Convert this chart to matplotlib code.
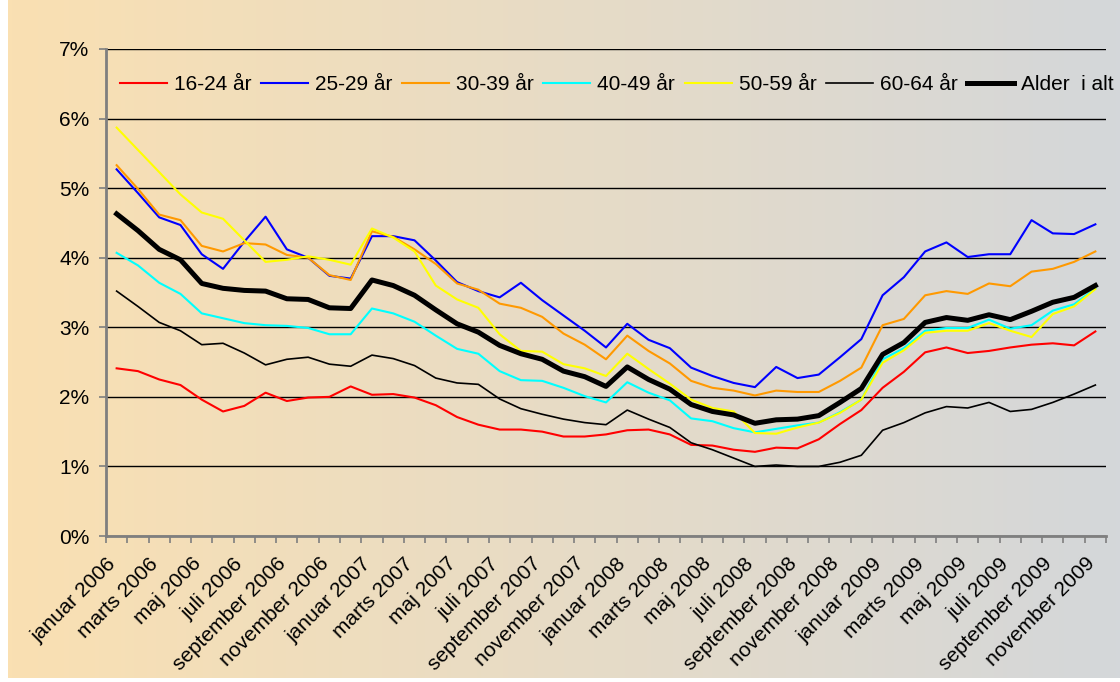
import numpy as np
import matplotlib.pyplot as plt

plt.rcParams['font.family'] = ['Liberation Sans', 'DejaVu Sans']

# month labels for the category axis (januar 2006 .. december 2009)
month_names = ['januar', 'februar', 'marts', 'april', 'maj', 'juni', 'juli',
               'august', 'september', 'oktober', 'november', 'december']
tick_labels = [f'{m} {y}' for y in range(2006, 2010) for m in month_names]

# unemployment rate in %, one value per month (jan 2006 - nov 2009)
age_16_24 = [2.41, 2.37, 2.25, 2.17, 1.96, 1.79, 1.87, 2.06, 1.94, 1.99, 2.00, 2.15,
             2.03, 2.04, 1.99, 1.88, 1.71, 1.60, 1.53, 1.53, 1.50, 1.43, 1.43, 1.46,
             1.52, 1.53, 1.46, 1.31, 1.30, 1.24, 1.21, 1.27, 1.26, 1.39, 1.61, 1.81,
             2.13, 2.36, 2.64, 2.71, 2.63, 2.66, 2.71, 2.75, 2.77, 2.74, 2.94]
age_25_29 = [5.27, 4.93, 4.58, 4.47, 4.05, 3.84, 4.23, 4.59, 4.12, 4.00, 3.74, 3.70,
             4.31, 4.31, 4.25, 3.96, 3.65, 3.52, 3.43, 3.64, 3.39, 3.17, 2.95, 2.71,
             3.05, 2.82, 2.70, 2.42, 2.30, 2.20, 2.14, 2.43, 2.27, 2.32, 2.57, 2.83,
             3.46, 3.72, 4.09, 4.22, 4.01, 4.05, 4.05, 4.54, 4.35, 4.34, 4.48]
age_30_39 = [5.33, 4.99, 4.62, 4.54, 4.17, 4.09, 4.21, 4.19, 4.04, 4.00, 3.75, 3.68,
             4.38, 4.30, 4.12, 3.91, 3.63, 3.54, 3.34, 3.28, 3.15, 2.91, 2.75, 2.54,
             2.88, 2.66, 2.48, 2.23, 2.13, 2.09, 2.02, 2.09, 2.07, 2.07, 2.23, 2.42,
             3.03, 3.12, 3.46, 3.52, 3.48, 3.63, 3.59, 3.80, 3.84, 3.94, 4.09]
age_40_49 = [4.07, 3.89, 3.64, 3.48, 3.20, 3.13, 3.06, 3.03, 3.02, 2.99, 2.90, 2.90,
             3.27, 3.20, 3.08, 2.88, 2.69, 2.62, 2.37, 2.24, 2.23, 2.13, 2.01, 1.92,
             2.21, 2.06, 1.95, 1.69, 1.65, 1.55, 1.49, 1.54, 1.59, 1.63, 1.78, 1.96,
             2.54, 2.70, 2.95, 2.99, 2.99, 3.11, 2.98, 3.03, 3.24, 3.33, 3.56]
age_50_59 = [5.87, 5.55, 5.23, 4.91, 4.65, 4.56, 4.25, 3.94, 3.97, 4.02, 3.97, 3.90,
             4.42, 4.29, 4.09, 3.60, 3.40, 3.28, 2.90, 2.66, 2.65, 2.47, 2.41, 2.30,
             2.62, 2.40, 2.19, 1.96, 1.84, 1.79, 1.48, 1.47, 1.56, 1.63, 1.77, 1.96,
             2.49, 2.67, 2.92, 2.95, 2.95, 3.06, 2.95, 2.86, 3.19, 3.30, 3.55]
age_60_64 = [3.52, 3.30, 3.07, 2.95, 2.75, 2.77, 2.63, 2.46, 2.54, 2.57, 2.47, 2.44,
             2.60, 2.55, 2.45, 2.27, 2.20, 2.18, 1.97, 1.83, 1.75, 1.68, 1.63, 1.60,
             1.81, 1.68, 1.56, 1.34, 1.24, 1.12, 1.00, 1.02, 1.00, 1.00, 1.06, 1.16,
             1.52, 1.63, 1.77, 1.86, 1.84, 1.92, 1.79, 1.82, 1.92, 2.04, 2.17]
age_total = [4.63, 4.39, 4.12, 3.97, 3.63, 3.56, 3.53, 3.52, 3.41, 3.40, 3.28, 3.27,
             3.68, 3.60, 3.46, 3.25, 3.05, 2.93, 2.74, 2.62, 2.54, 2.37, 2.29, 2.15,
             2.43, 2.25, 2.11, 1.89, 1.79, 1.74, 1.62, 1.67, 1.68, 1.73, 1.92, 2.12,
             2.61, 2.78, 3.07, 3.14, 3.10, 3.18, 3.11, 3.23, 3.36, 3.43, 3.60]

series = [
    ('16-24 år', age_16_24, '#ff0000', 1.5),
    ('25-29 år', age_25_29, '#0000ff', 1.5),
    ('30-39 år', age_30_39, '#ff9900', 1.5),
    ('40-49 år', age_40_49, '#00ffff', 1.5),
    ('50-59 år', age_50_59, '#ffff00', 1.5),
    ('60-64 år', age_60_64, '#000000', 1.2),
    ('Alder  i alt', age_total, '#000000', 3.6),
]

W, H = 1120, 682
fig = plt.figure(figsize=(W / 100, H / 100), dpi=100)
fig.patch.set_facecolor('white')

# background gradient (peach -> grey)
bg = fig.add_axes([8 / W, 4 / H, 1 - 8 / W, 1 - 4 / H], zorder=-1)
left_col = np.array([250, 224, 178]) / 255
right_col = np.array([212, 215, 218]) / 255
t = np.linspace(0, 1, 256)[None, :, None]
grad = left_col * (1 - t) + right_col * t
bg.imshow(grad, aspect='auto', extent=(0, 1, 0, 1))
bg.axis('off')

ax = fig.add_axes([106 / W, 1 - 536 / H, 1000 / W, 487 / H])
ax.set_facecolor('none')

x = np.arange(len(age_total)) + 0.5
for label, vals, col, lw in series:
    ax.plot(x, vals, color=col, linewidth=lw, label=label, solid_joinstyle='round')

ax.set_xlim(0, 47)
ax.set_ylim(0, 7)
ax.set_yticks(range(8))
ax.set_yticklabels([f'{i}%' for i in range(8)], fontsize=15)
ax.set_xticks(range(48))
ax.set_xticklabels([lab if i % 2 == 0 else '' for i, lab in enumerate(tick_labels)],
                   rotation=45, ha='right', va='top', rotation_mode='anchor', fontsize=15)
ax.tick_params(axis='x', length=5, width=1.2, color='#7f7f7f', pad=8)
ax.tick_params(axis='y', length=5, width=1.2, color='#7f7f7f', pad=7)

ax.grid(axis='y', color='black', linewidth=1.0)
ax.set_axisbelow(True)
for s in ['top', 'right']:
    ax.spines[s].set_visible(False)
for s in ['left', 'bottom']:
    ax.spines[s].set_color('#7f7f7f')
    ax.spines[s].set_linewidth(2)

leg = ax.legend(loc='center left', bbox_to_anchor=(120 / W, 1 - 85 / H),
                bbox_transform=fig.transFigure, ncol=7, frameon=False,
                fontsize=15, handlelength=2.26, handletextpad=0.34,
                columnspacing=0.45, borderpad=0, borderaxespad=0)

fig.savefig('out.png', dpi=100)
